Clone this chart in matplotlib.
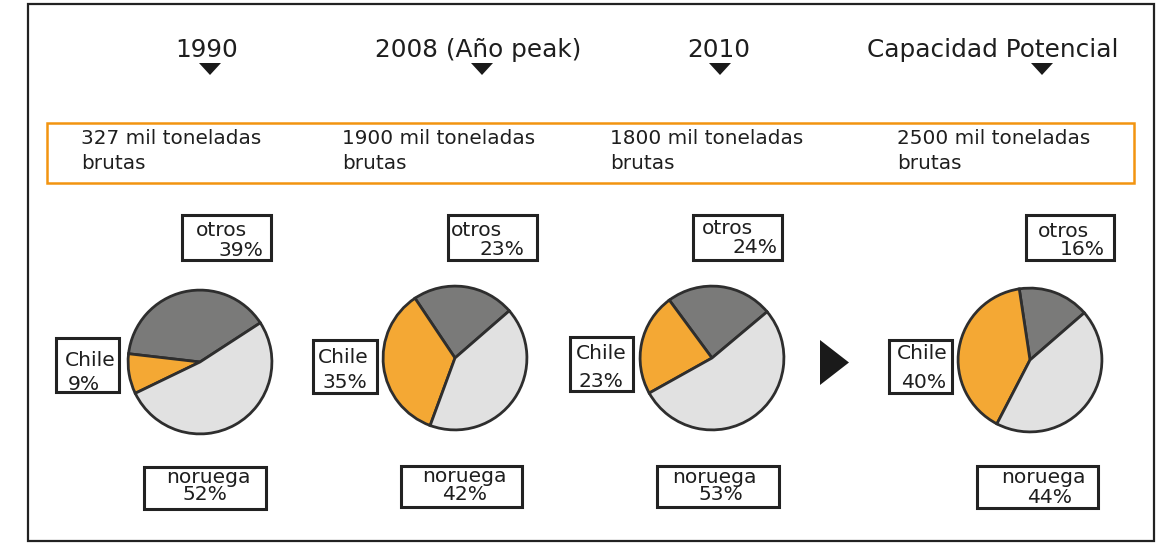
import matplotlib
matplotlib.use("Agg")
import matplotlib.pyplot as plt
from matplotlib.patches import Rectangle, Polygon

# ---------------- data ----------------
periods = ["1990", "2008 (Año peak)", "2010", "Capacidad Potencial"]
production = ["327 mil toneladas\nbrutas", "1900 mil toneladas\nbrutas",
              "1800 mil toneladas\nbrutas", "2500 mil toneladas\nbrutas"]
categories = ["otros", "Chile", "noruega"]
share_1990 = [39, 9, 52]
share_2008 = [23, 35, 42]
share_2010 = [24, 23, 53]
share_potential = [16, 40, 44]
shares = [share_1990, share_2008, share_2010, share_potential]

# ---------------- style / layout (pixels) ----------------
W, H = 1160, 543
colors = ["#7a7a79", "#f4a834", "#e1e1e1"]
edge = "#2e2e2e"
txt = "#1e1e1e"
orange = "#f29410"
FONT = "DejaVu Sans"

header_x = [207, 478, 719, 993]
tri_x = [210, 482, 720, 1042]
body_x = [81, 342, 610, 897]
pie_centers = [(200, 362), (455, 358), (712, 358), (1030, 360)]
pie_r = 73
start_angles = [33, 41, 40, 41]

# boxes: (x0, y0, x1, y1) for otros, Chile, noruega
boxes = [
    [(182, 215, 271, 260), (56, 338, 119, 392), (144, 467, 266, 509)],
    [(448, 215, 537, 260), (313, 340, 377, 393), (401, 466, 522, 507)],
    [(693, 215, 782, 260), (570, 337, 633, 391), (657, 466, 779, 507)],
    [(1026, 215, 1114, 260), (889, 340, 952, 393), (977, 466, 1098, 508)],
]
# label line positions: (name_x, name_base, pct_x, pct_base, pct_ha)
label_pos = [
    [(196, 236, 263, 256, "right"), (65, 366, 68, 390, "left"), (166, 483, 183, 500, "left")],
    [(451, 236, 524, 255, "right"), (318, 363, 323, 388, "left"), (422, 482, 442, 500, "left")],
    [(702, 234, 777, 253, "right"), (576, 359, 579, 387, "left"), (672, 483, 698, 500, "left")],
    [(1038, 237, 1105, 255, "right"), (897, 359, 901, 388, "left"), (1001, 483, 1027, 503, "left")],
]

fig = plt.figure(figsize=(W / 100, H / 100), dpi=100)
fig.patch.set_facecolor("white")
ov = fig.add_axes([0, 0, 1, 1])
ov.set_xlim(0, W)
ov.set_ylim(H, 0)
ov.axis("off")

# outer frame
ov.add_patch(Rectangle((28, 4), 1126, 537, fill=False, ec="#222222", lw=1.6))
# orange band
ov.add_patch(Rectangle((47, 123), 1087, 60, fill=False, ec=orange, lw=1.8))

for i, p in enumerate(periods):
    ov.text(header_x[i], 57, p, ha="center", va="baseline", fontsize=17.8,
            color=txt, family=FONT)
    tx = tri_x[i]
    ov.add_patch(Polygon([(tx - 11, 63), (tx + 11, 63), (tx, 75)], closed=True,
                         fc="#1a1a1a", ec="none"))
    l1, l2 = production[i].split("\n")
    ov.text(body_x[i], 144, l1, ha="left", va="baseline", fontsize=14.4,
            color=txt, family=FONT)
    ov.text(body_x[i], 169, l2, ha="left", va="baseline", fontsize=14.4,
            color=txt, family=FONT)

# right-pointing arrow
ov.add_patch(Polygon([(820, 340), (820, 385), (849, 362.5)], closed=True,
                     fc="#1a1a1a", ec="none"))

# pies
for i, vals in enumerate(shares):
    cx, cy = pie_centers[i]
    pax = fig.add_axes([(cx - pie_r) / W, 1 - (cy + pie_r) / H,
                        2 * pie_r / W, 2 * pie_r / H])
    pax.pie(vals, colors=colors, startangle=start_angles[i], counterclock=True,
            radius=0.985,
            wedgeprops=dict(edgecolor=edge, linewidth=2.0))
    pax.set_xlim(-1, 1)
    pax.set_ylim(-1, 1)
    pax.set_aspect("auto")
    pax.axis("off")

    for k, cat in enumerate(categories):
        x0, y0, x1, y1 = boxes[i][k]
        ov.add_patch(Rectangle((x0, y0), x1 - x0, y1 - y0, fill=True, fc="white",
                               ec="#222222", lw=2.2, zorder=3))
        nx, nb, px, pb, pha = label_pos[i][k]
        ov.text(nx, nb, cat, ha="left", va="baseline", fontsize=14.6,
                color=txt, family=FONT, zorder=4)
        ov.text(px, pb, f"{vals[k]}%", ha=pha, va="baseline", fontsize=14.6,
                color=txt, family=FONT, zorder=4)

fig.savefig("out.png", dpi=100, facecolor="white")
